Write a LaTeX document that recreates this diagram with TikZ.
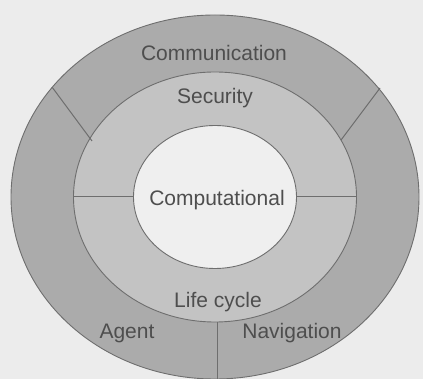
\documentclass[tikz,border=0pt]{standalone}
\usepackage{fontspec}
\setmainfont{Liberation Sans}
\definecolor{bg}{HTML}{ECECEC}
\definecolor{outerc}{HTML}{ABABAB}
\definecolor{midc}{HTML}{C3C3C3}
\definecolor{innerc}{HTML}{EFEFEF}
\definecolor{linec}{HTML}{6E6E6E}
\definecolor{textc}{HTML}{4E4E4E}
\begin{document}
\begin{tikzpicture}[x=1pt,y=-1pt,
  ring/.style={draw=linec,line width=0.9pt},
  divider/.style={draw=linec,line width=1pt},
  lbl/.style={text=textc,font=\fontsize{21}{24}\selectfont,inner sep=0pt}]
\fill[bg] (0,0) rectangle (423,379);
\useasboundingbox (0,0) rectangle (423,379);
\coordinate (c) at (215,197);
\path[ring,fill=outerc] (c) ellipse [x radius=204,y radius=182];
\path[ring,fill=midc] (c) ellipse [x radius=141.5,y radius=125];
\path[ring,fill=innerc] (c) ellipse [x radius=81.5,y radius=71.5];
\coordinate (ulo) at (52,87);
\coordinate (uli) at (92,141);
\coordinate (uro) at (380,88);
\coordinate (uri) at (341,140);
\coordinate (hlo) at (73.5,197);
\coordinate (hli) at (133.5,197);
\coordinate (hro) at (356.5,197);
\coordinate (hri) at (296.5,197);
\coordinate (vt) at (217,322);
\coordinate (vb) at (217,380);
\draw[divider] (ulo) -- (uli);
\draw[divider] (uro) -- (uri);
\draw[divider] (hlo) -- (hli);
\draw[divider] (hro) -- (hri);
\draw[divider] (vt) -- (vb);
\node[lbl] (comm) at (214,53) {Communication};
\node[lbl] (sec) at (215,98) {Security};
\node[lbl] (comp) at (217,200) {Computational};
\node[lbl] (life) at (218,302) {Life cycle};
\node[lbl] (agent) at (127,333) {Agent};
\node[lbl] (nav) at (292,333) {Navigation};
\end{tikzpicture}
\end{document}
